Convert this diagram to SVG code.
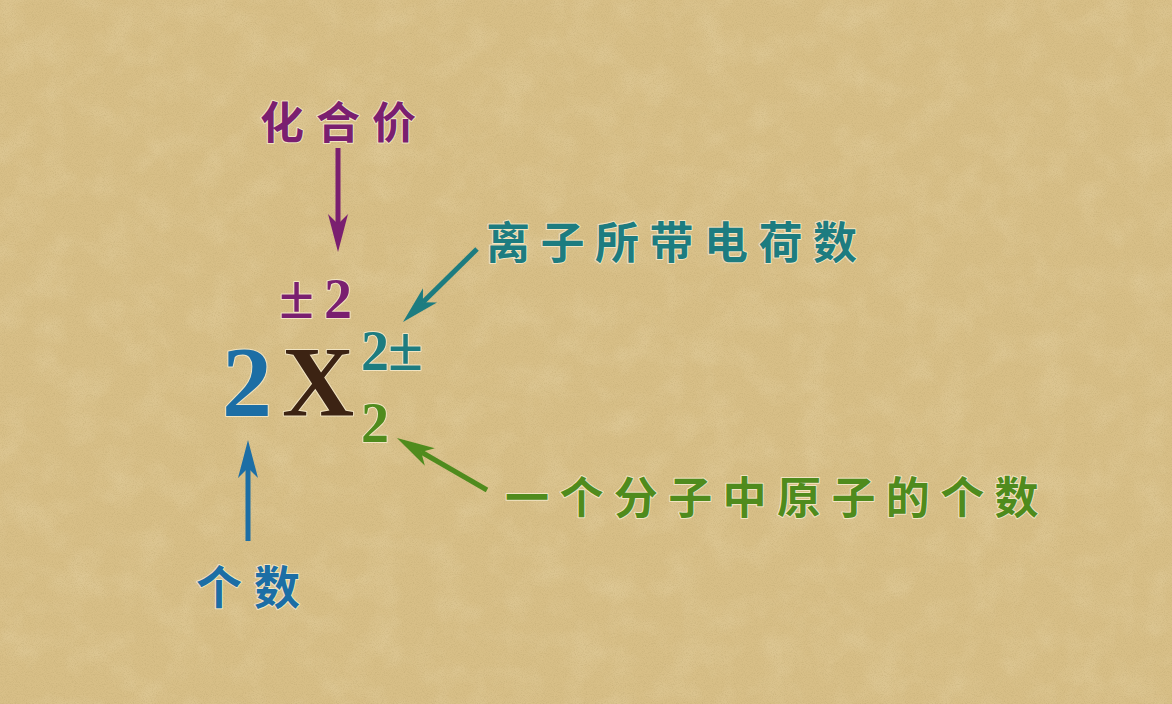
<svg xmlns="http://www.w3.org/2000/svg" width="1172" height="704" viewBox="0 0 1172 704">
  <defs>
    <style>
      .cjk { font-family: "Noto Sans CJK SC", "Noto Sans", sans-serif; font-weight: 700; paint-order: stroke; stroke: #f1e4c2; stroke-width: 2; stroke-linejoin: round; }
      .sym { font-family: "Liberation Serif", "DejaVu Serif", serif; font-weight: 700; paint-order: stroke; stroke: #f1e4c2; stroke-width: 2; stroke-linejoin: round; }
      .conn { fill: none; stroke-width: 5; stroke-linecap: butt; }
    </style>
    <filter id="paper" x="0" y="0" width="100%" height="100%">
      <feTurbulence type="fractalNoise" baseFrequency="0.9" numOctaves="3" seed="7" result="n"/>
      <feColorMatrix in="n" type="matrix" values="0 0 0 0 0.50  0 0 0 0 0.38  0 0 0 0 0.16  1.6 0 0 0 -0.68"/>
    </filter>
    <filter id="paper2" x="0" y="0" width="100%" height="100%">
      <feTurbulence type="fractalNoise" baseFrequency="0.03" numOctaves="3" seed="11" result="n"/>
      <feColorMatrix in="n" type="matrix" values="0 0 0 0 0.93  0 0 0 0 0.85  0 0 0 0 0.62  1.2 0 0 0 -0.5"/>
    </filter>
    <marker id="hPurple" markerUnits="userSpaceOnUse" markerWidth="40" markerHeight="22" refX="10" refY="11" orient="auto">
      <path d="M0,1 L38,11 L0,21 L10,11 z" fill="#7a1f70"/>
    </marker>
    <marker id="hBlue" markerUnits="userSpaceOnUse" markerWidth="40" markerHeight="22" refX="10" refY="11" orient="auto">
      <path d="M0,1 L38,11 L0,21 L10,11 z" fill="#1c6ea5"/>
    </marker>
    <marker id="hTeal" markerUnits="userSpaceOnUse" markerWidth="40" markerHeight="22" refX="10" refY="11" orient="auto">
      <path d="M0,1 L38,11 L0,21 L10,11 z" fill="#1d7c80"/>
    </marker>
    <marker id="hGreen" markerUnits="userSpaceOnUse" markerWidth="40" markerHeight="22" refX="10" refY="11" orient="auto">
      <path d="M0,1 L38,11 L0,21 L10,11 z" fill="#4f8b1d"/>
    </marker>
  </defs>

  <g id="background">
    <rect width="1172" height="704" fill="#d8bf87"/>
    <rect width="1172" height="704" filter="url(#paper2)" opacity="0.3"/>
    <rect width="1172" height="704" filter="url(#paper)" opacity="0.55"/>
  </g>

  <g id="connectors">
    <line class="conn" x1="338" y1="148" x2="338" y2="224" stroke="#7a1f70" marker-end="url(#hPurple)"/>
    <line class="conn" x1="248" y1="541" x2="248" y2="468" stroke="#1c6ea5" marker-end="url(#hBlue)"/>
    <line class="conn" x1="477" y1="249" x2="422.9" y2="302.3" stroke="#1d7c80" marker-end="url(#hTeal)"/>
    <line class="conn" x1="487" y1="490" x2="421.2" y2="452" stroke="#4f8b1d" marker-end="url(#hGreen)"/>
  </g>

  <g id="label-valence">
    <text class="cjk" x="260" y="139" font-size="44" letter-spacing="12" fill="#7a1f70">化合价</text>
  </g>
  <g id="label-charge">
    <text class="cjk" x="486" y="259" font-size="44" letter-spacing="10.5" fill="#1d7c80">离子所带电荷数</text>
  </g>
  <g id="label-atoms">
    <text class="cjk" x="505" y="514" font-size="44" letter-spacing="10.4" fill="#4f8b1d">一个分子中原子的个数</text>
  </g>
  <g id="label-count">
    <text class="cjk" x="196" y="604" font-size="46" letter-spacing="12" fill="#1c6ea5">个数</text>
  </g>

  <g id="formula">
    <text class="sym" y="318" fill="#7a1f70"><tspan x="279" font-size="64">±</tspan><tspan x="324" font-size="56">2</tspan></text>
    <text class="sym" x="222" y="415" font-size="100" fill="#1c6ea5">2</text>
    <text class="sym" x="282" y="415" font-size="100" fill="#3c2313">X</text>
    <text class="sym" y="370" fill="#1d7c80"><tspan x="361" font-size="56">2</tspan><tspan x="388" font-size="64">±</tspan></text>
    <text class="sym" x="361" y="442" font-size="56" fill="#4f8b1d">2</text>
  </g>
</svg>
